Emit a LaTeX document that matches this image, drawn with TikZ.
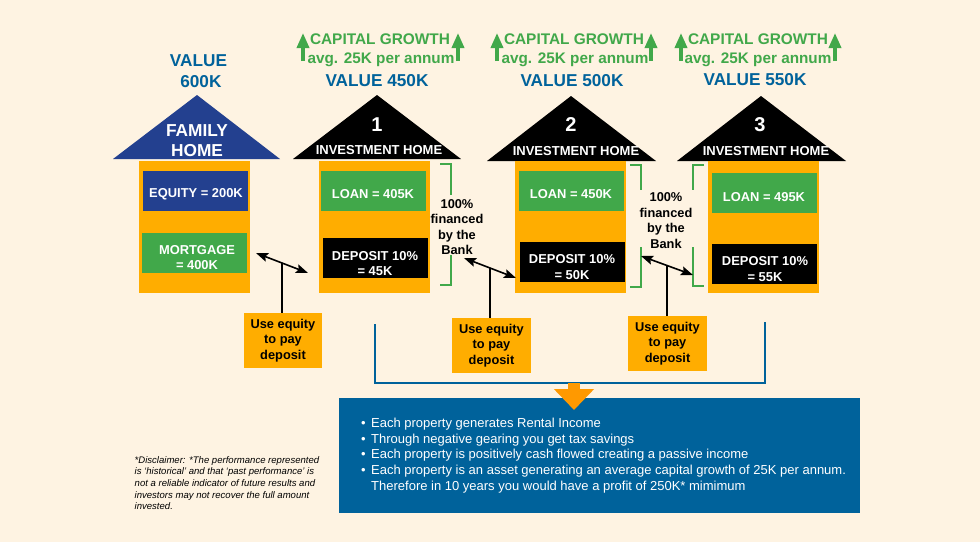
\documentclass[tikz,border=0pt]{standalone}
\usepackage{fontspec}
\setmainfont{Liberation Sans}
\usepackage{tikz}
\usetikzlibrary{arrows.meta}
\definecolor{paper}{HTML}{FEF3E2}
\definecolor{amber}{HTML}{FFAD00}
\definecolor{leaf}{HTML}{41A84A}
\definecolor{navy}{HTML}{23408F}
\definecolor{sea}{HTML}{00629B}
\definecolor{tip}{HTML}{FF9900}
\tikzset{
  body/.style={fill=amber,inner sep=0pt,minimum width=111pt,minimum height=132pt},
  panel/.style={inner sep=0pt,minimum width=105pt,minimum height=40pt},
  paneltext/.style={text=white,inner sep=0pt,align=center,font=\bfseries\fontsize{12.9}{15.4}\selectfont},
  growth/.style={text=leaf,inner sep=0pt,font=\bfseries\fontsize{15.4}{18}\selectfont},
  growthsmall/.style={text=leaf,inner sep=0pt,font=\bfseries\fontsize{15.3}{18}\selectfont},
  value/.style={text=sea,inner sep=0pt,align=center,font=\bfseries\fontsize{17.2}{21}\selectfont},
  homename/.style={text=white,inner sep=0pt,font=\bfseries\fontsize{13}{15}\selectfont},
  homenum/.style={text=white,inner sep=0pt,font=\bfseries\fontsize{20}{22}\selectfont},
  financed/.style={inner sep=0pt,align=center,font=\bfseries\fontsize{12.8}{15.5}\selectfont},
  usebox/.style={fill=amber,inner sep=0pt,minimum width=78.5pt,minimum height=55pt,align=center,font=\bfseries\fontsize{12.8}{15.8}\selectfont},
  upgrow/.style={leaf,line width=3.5pt,-{Triangle[length=15pt,width=12pt]}},
  bank/.style={leaf,line width=1.2pt},
  swap/.style={black,line width=1.6pt,{Stealth[length=12pt,width=9pt,inset=2pt]}-{Stealth[length=12pt,width=9pt,inset=2pt]}},
  stem/.style={black,line width=1.3pt}
}
\begin{document}
\begin{tikzpicture}[x=1pt,y=-1pt]
  \fill[paper] (0,0) rectangle (980,542);
  \useasboundingbox (0,0) rectangle (980,542);

  % family home
  \fill[navy] (197,95) -- (280,159) -- (113,159) -- cycle;
  \node[body] (body0) at (194.5,227) {};
  \node[panel,fill=navy] (equity0) at (195.5,191) {};
  \node[panel,fill=leaf] (mortgage0) at (194.5,252.5) {};
  \node[paneltext] (equitytext0) at (196,194) {EQUITY = 200K};
  \node[paneltext] (mortgagetext0) at (197,257.5) {MORTGAGE\\= 400K};
  \node[value] (value0) at (198.5,71) {VALUE\\\ 600K};
  \node[text=white,inner sep=0pt,align=center,font=\bfseries\fontsize{17.3}{20}\selectfont] (name0) at (197,141) {FAMILY\\HOME};

  % home 1
  \fill[black] (377,95) -- (461,159) -- (293,159) -- cycle;
  \node[body] (body1) at (374.5,227) {};
  \node[panel,fill=leaf] (loan1) at (373.5,191) {};
  \node[panel,fill=black] (deposit1) at (375.5,258) {};
  \node[paneltext] (loantext1) at (373,194) {LOAN = 405K};
  \node[paneltext] (deposittext1) at (375,263.5) {DEPOSIT 10\%\\= 45K};
  \node[growth] (cap1) at (380,39.5) {CAPITAL GROWTH};
  \node[growthsmall] (avg1) at (381,60) {avg. 25K per annum};
  \node[value] (value1) at (377,81) {VALUE 450K};
  \node[homenum] (num1) at (377,125) {1};
  \node[homename] (name1) at (379,150) {INVESTMENT HOME};

  % home 2
  \fill[black] (571,96) -- (656,161) -- (487,161) -- cycle;
  \node[body] (body2) at (570.5,227) {};
  \node[panel,fill=leaf] (loan2) at (571,191) {};
  \node[panel,fill=black] (deposit2) at (572.5,262) {};
  \node[paneltext] (loantext2) at (571,194) {LOAN = 450K};
  \node[paneltext] (deposittext2) at (572,267) {DEPOSIT 10\%\\= 50K};
  \node[growth] (cap2) at (574,39.5) {CAPITAL GROWTH};
  \node[growthsmall] (avg2) at (575,60) {avg. 25K per annum};
  \node[value] (value2) at (572,81) {VALUE 500K};
  \node[homenum] (num2) at (571,125) {2};
  \node[homename] (name2) at (576,151) {INVESTMENT HOME};

  % home 3
  \fill[black] (761,96) -- (846,161) -- (677,161) -- cycle;
  \node[body] (body3) at (763.5,227) {};
  \node[panel,fill=leaf] (loan3) at (764.5,193) {};
  \node[panel,fill=black] (deposit3) at (764.5,264) {};
  \node[paneltext] (loantext3) at (764,197) {LOAN = 495K};
  \node[paneltext] (deposittext3) at (765,269) {DEPOSIT 10\%\\= 55K};
  \node[growth] (cap3) at (758,39.5) {CAPITAL GROWTH};
  \node[growthsmall] (avg3) at (758,60) {avg. 25K per annum};
  \node[value] (value3) at (755,80) {VALUE 550K};
  \node[homenum] (num3) at (760,125) {3};
  \node[homename] (name3) at (766,151) {INVESTMENT HOME};

  % growth arrows
  \draw[upgrow] (303,61) -- (303,33);
  \draw[upgrow] (458,61) -- (458,33);
  \draw[upgrow] (497,61) -- (497,33);
  \draw[upgrow] (651,61) -- (651,33);
  \draw[upgrow] (681,61) -- (681,33);
  \draw[upgrow] (835,61) -- (835,33);

  % bank brackets
  \draw[bank] (440,164) -- (451,164) -- (451,195);
  \draw[bank] (451,255) -- (451,285) -- (440,285);
  \draw[bank] (630,165) -- (641,165) -- (641,190);
  \draw[bank] (641,247) -- (641,287) -- (630,287);
  \draw[bank] (704,165) -- (693,165) -- (693,190);
  \draw[bank] (693,247) -- (693,286) -- (704,286);
  \node[financed] (fin1) at (457,227) {100\%\\financed\\by the\\Bank};
  \node[financed] (fin2) at (666,220.5) {100\%\\financed\\by the\\Bank};

  % use equity
  \node[usebox] (use1) at (283,340.5) {Use equity\\to pay\\deposit};
  \node[usebox] (use2) at (491.5,345.5) {Use equity\\to pay\\deposit};
  \node[usebox] (use3) at (667.5,343.5) {Use equity\\to pay\\deposit};
  \coordinate (swap1a) at (256,253);
  \coordinate (swap1b) at (308,273);
  \coordinate (swap2a) at (464,258);
  \coordinate (swap2b) at (516,278);
  \coordinate (swap3a) at (641,256);
  \coordinate (swap3b) at (693,275);
  \draw[swap] (swap1a) -- coordinate (mid1) (swap1b);
  \draw[swap] (swap2a) -- coordinate (mid2) (swap2b);
  \draw[swap] (swap3a) -- coordinate (mid3) (swap3b);
  \draw[stem] (use1.north -| mid1) -- (mid1);
  \draw[stem] (use2.north -| mid2) -- (mid2);
  \draw[stem] (use3.north -| mid3) -- (mid3);

  % summary
  \node[fill=sea,anchor=west,inner sep=0pt,minimum width=521pt,minimum height=115pt] (summary) at (339,455.5) {};
  \node[text=white,anchor=west,inner sep=0pt,align=left,font=\fontsize{13}{15.8}\selectfont] (summarytext) at (361,455.5) {%
    \makebox[10pt][l]{•}Each property generates Rental Income\\
    \makebox[10pt][l]{•}Through negative gearing you get tax savings\\
    \makebox[10pt][l]{•}Each property is positively cash flowed creating a passive income\\
    \makebox[10pt][l]{•}Each property is an asset generating an average capital growth of 25K per annum.\\
    \makebox[10pt][l]{}Therefore in 10 years you would have a profit of 250K* mimimum};
  \coordinate (legL) at (375,324);
  \coordinate (legR) at (765,322);
  \coordinate (join) at (574,383);
  \coordinate (point) at (574,410);
  \draw[sea,line width=1.5pt] (legL) |- (join) -| (legR);
  \draw[tip,line width=12pt,-{Triangle[length=21pt,width=39pt]}] (join) -- (point);

  % disclaimer
  \node[anchor=west,inner sep=0pt,align=left,font=\itshape\fontsize{9.55}{11.6}\selectfont] (disclaimer) at (134.5,483) {*Disclaimer: *The performance represented\\is ‘historical’ and that ‘past performance’ is\\not a reliable indicator of future results and\\investors may not recover the full amount\\invested.};
\end{tikzpicture}
\end{document}
